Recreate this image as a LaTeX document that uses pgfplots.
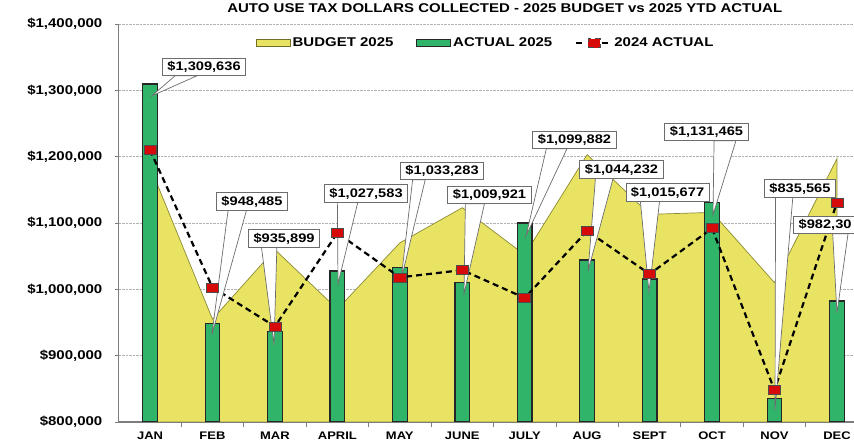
\documentclass[border=0pt]{standalone}
\usepackage{pgfplots}
\pgfplotsset{compat=1.18}
\usepackage{fontspec}
\setmainfont{Liberation Sans}[FakeStretch=1.18]
\usetikzlibrary{calc}
\definecolor{areaY}{RGB}{233,227,100}
\definecolor{areaEdge}{RGB}{140,138,50}
\definecolor{barG}{RGB}{48,180,106}
\definecolor{mkR}{RGB}{215,10,10}
\definecolor{axGray}{RGB}{125,125,125}
\tikzset{cbox/.style={draw=gray!85!black, fill=white, line width=0.8pt, inner xsep=5pt, inner ysep=3pt, font=\fontsize{12.4}{13}\selectfont\bfseries}}
\newcommand{\callout}[7]{%
  \node[cbox, draw=none, fill=none, text opacity=0] (cb) at (axis cs:#1,#2) {#7};
  \filldraw[fill=white, draw=gray!85!black, line width=0.7pt] ($(cb.south west)!#3!(cb.south east)$) -- (axis cs:#5,#6) -- ($(cb.south west)!#4!(cb.south east)$) -- cycle;
  \node[cbox] at (cb.center) {#7};
}
\begin{document}
\begin{tikzpicture}
\begin{axis}[
  at={(118.8pt,21pt)}, anchor=south west,
  scale only axis, width=735.2pt, height=398pt,
  xmin=-0.5, xmax=11.273, ymin=800000, ymax=1400000,
  axis x line*=bottom, axis y line*=left,
  axis line style={axGray, line width=1.3pt},
  xtick={0,1,2,3,4,5,6,7,8,9,10,11},
  xticklabels={JAN,FEB,MAR,APRIL,MAY,JUNE,JULY,AUG,SEPT,OCT,NOV,DEC},
  minor xtick={0.5,1.5,2.5,3.5,4.5,5.5,6.5,7.5,8.5,9.5,10.5},
  major x tick style={draw=none},
  minor x tick style={axGray, line width=0.8pt},
  ytick={800000,900000,1000000,1100000,1200000,1300000,1400000},
  y tick style={axGray, line width=0.8pt},
  tick align=outside, major tick length=4pt, minor tick length=5pt,
  ymajorgrids, major grid style={densely dotted, gray!60, line width=0.6pt},
  scaled y ticks=false,
  yticklabel={\$\pgfmathprintnumber[fixed, precision=0, 1000 sep={,}]{\tick}},
  /pgf/number format/assume math mode=true,
  yticklabel style={font=\fontsize{12.7}{14}\selectfont\bfseries, xshift=-9pt},
  xticklabel style={font=\fontsize{11}{12}\selectfont\bfseries, yshift=-2pt},
  title={AUTO USE TAX DOLLARS COLLECTED - 2025 BUDGET vs 2025 YTD ACTUAL},
  title style={at={(0.525,1)}, anchor=base, yshift=5pt, font=\fontsize{12.7}{14}\selectfont\bfseries},
  legend columns=3,
  legend style={at={(0.499,0.952)}, anchor=center, draw=none, fill=none,
    font=\fontsize{12.7}{14}\selectfont\bfseries,
    /tikz/every even column/.append style={column sep=21pt}},
]
\addplot[fill=areaY, draw=areaEdge, line width=0.7pt,
  legend image code/.code={\draw[fill=areaY, draw=areaEdge!80!black, line width=0.8pt] (0pt,-3.5pt) rectangle (34pt,3.5pt);}]
  coordinates {(0,1185000) (1,955000) (2,1060000) (3,970000) (4,1070000) (5,1123000)
               (6,1052000) (7,1203000) (8,1113000) (9,1116000) (10,1010000) (11,1197000)} \closedcycle;
\addlegendentry{BUDGET 2025}
\addplot[ybar, bar width=14.7pt, draw=black!85, line width=1.2pt, fill=barG,
  legend image code/.code={\draw[draw=black!85, fill=barG, line width=0.8pt] (0pt,-3.5pt) rectangle (34pt,3.5pt);}]
  coordinates {(0,1309636) (1,948485) (2,935899) (3,1027583) (4,1033283) (5,1009921)
               (6,1099882) (7,1044232) (8,1015677) (9,1131465) (10,835565) (11,982305)};
\addlegendentry{ACTUAL 2025}
\addplot[black, line width=2.2pt, dash pattern=on 6pt off 4pt,
  mark=square*, mark size=4.5pt,
  mark options={solid, fill=mkR, draw=black!70, line width=0.6pt, xscale=1.35},
  legend image code/.code={\draw[black, line width=2pt] (0pt,0pt) -- (9pt,0pt); \draw[black, line width=2pt] (26pt,0pt) -- (35pt,0pt);
    \node[fill=mkR, draw=black!70, line width=0.6pt, minimum width=12pt, minimum height=9pt, inner sep=0pt] at (17.5pt,0pt) {};}]
  coordinates {(0,1210000) (1,1003000) (2,944000) (3,1085000) (4,1018000) (5,1029000)
               (6,987000) (7,1088000) (8,1023000) (9,1092000) (10,848000) (11,1131000)};
\addlegendentry{2024 ACTUAL}
\callout{0.865}{1335447}{0.155}{0.417}{0.03}{1291706}{\$1,309,636}
\callout{1.633}{1132580}{0.167}{0.423}{0.99}{931222}{\$948,485}
\callout{2.146}{1076773}{0.186}{0.40}{1.986}{916139}{\$935,899}
\callout{3.459}{1144647}{0.159}{0.402}{3.01}{1008145}{\$1,027,583}
\callout{4.676}{1178583}{0.15}{0.30}{4.02}{1014179}{\$1,033,283}
\callout{5.436}{1142384}{0.213}{0.44}{5.028}{993062}{\$1,009,921}
\callout{6.797}{1225341}{0.165}{0.41}{6.021}{1080544}{\$1,099,882}
\callout{7.550}{1180846}{0.19}{0.40}{7.014}{1027753}{\$1,044,232}
\callout{8.287}{1146155}{0.177}{0.405}{7.99}{996079}{\$1,015,677}
\callout{8.911}{1237407}{0.59}{0.85}{9.015}{1112218}{\$1,131,465}
\callout{10.408}{1152188}{0.16}{0.40}{10.008}{818100}{\$835,565}
\callout{10.81}{1097135}{0.62}{0.86}{11.0}{964405}{\$982,30}
\end{axis}
\pgfresetboundingbox
\path[use as bounding box] (0pt,0pt) rectangle (854pt,443pt);
\end{tikzpicture}
\end{document}
